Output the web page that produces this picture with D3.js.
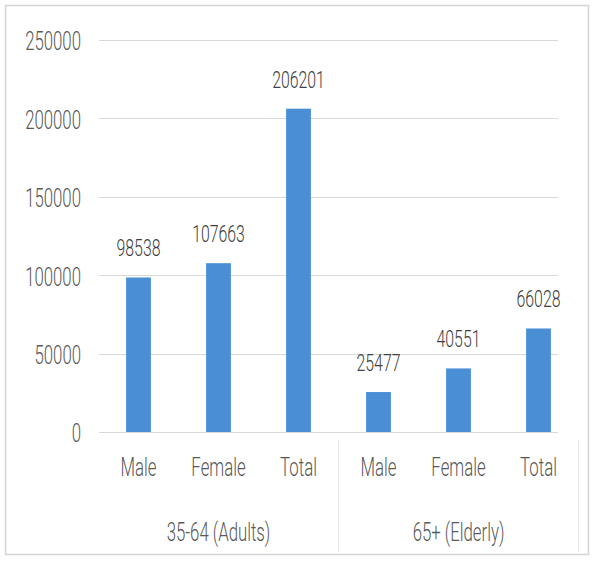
<!DOCTYPE html>
<html><head><meta charset="utf-8">
<script src="https://cdn.jsdelivr.net/npm/d3@7"></script>
<style>body{margin:0;background:#fff;}svg{display:block;}</style>
</head><body>
<svg id="c" width="596" height="565"></svg>
<script>
const groups = ["35-64 (Adults)", "65+ (Elderly)"];
const categories = ["Male", "Female", "Total", "Male", "Female", "Total"];
const categoryGroup = [0, 0, 0, 1, 1, 1];
const values = [98538, 107663, 206201, 25477, 40551, 66028];
const yTicks = [0, 50000, 100000, 150000, 200000, 250000];

const svg = d3.select("#c");
const FONT = "Roboto, 'Liberation Sans', Arial, sans-serif";
const SY = 1.5;

function label(g, x, y, txt, size, anchor, color) {
  g.append("text")
    .attr("transform", `translate(${x},${y}) scale(0.96,${SY})`)
    .attr("dy", "0.36em")
    .attr("text-anchor", anchor)
    .attr("font-family", FONT)
    .attr("font-weight", 300)
    .attr("font-size", size)
    .attr("fill", color)
    .text(txt);
}

// frame
svg.append("rect").attr("x", 5.5).attr("y", 5.5).attr("width", 583).attr("height", 549)
  .attr("fill", "#fff").attr("stroke", "#d4d4d4").attr("stroke-width", 1.5);

const idx = d3.range(categories.length);
const x = d3.scaleBand().domain(idx).range([98.5, 578.5]).paddingInner(0.69).paddingOuter(0.345);
const y = d3.scaleLinear().domain([0, 250000]).range([432, 40]);

const gridL = 99, gridR = 558;

// gridlines
svg.append("g").selectAll("line").data(yTicks.filter(t => t > 0)).join("line")
  .attr("x1", gridL).attr("x2", gridR)
  .attr("y1", d => Math.round(y(d)) + 0.5).attr("y2", d => Math.round(y(d)) + 0.5)
  .attr("stroke", "#d9d9d9").attr("stroke-width", 1);
// baseline
svg.append("line").attr("x1", gridL).attr("x2", gridR)
  .attr("y1", y(0) + 0.5).attr("y2", y(0) + 0.5)
  .attr("stroke", "#d9d9d9").attr("stroke-width", 1);

// y tick labels
const yl = svg.append("g");
yTicks.forEach(t => label(yl, 81, y(t) + 1, String(t), 17.5, "end", "#595959"));

// bars
svg.append("g").selectAll("rect").data(idx).join("rect")
  .attr("x", i => x(i)).attr("width", x.bandwidth())
  .attr("y", i => y(values[i])).attr("height", i => y(0) - y(values[i]))
  .attr("fill", "#4a8fd6");

// data labels
const dl = svg.append("g");
idx.forEach(i => label(dl, x(i) + x.bandwidth() / 2, y(values[i]) - 30, String(values[i]), 16.5, "middle", "#404040"));

// category labels
const cl = svg.append("g");
idx.forEach(i => label(cl, x(i) + x.bandwidth() / 2, 467, categories[i], 17.5, "middle", "#595959"));

// group labels & separators
const gl = svg.append("g");
groups.forEach((gname, gi) => {
  const members = idx.filter(i => categoryGroup[i] === gi);
  const cx = d3.mean(members, i => x(i) + x.bandwidth() / 2);
  label(gl, cx, 532, gname, 17.5, "middle", "#595959");
  const right = x(members[members.length - 1]) + x.bandwidth() / 2 + x.step() / 2;
  gl.append("line").attr("x1", right).attr("x2", right).attr("y1", 440).attr("y2", 552)
    .attr("stroke", "#e6e6e6").attr("stroke-width", 1);
});
</script>
</body></html>
